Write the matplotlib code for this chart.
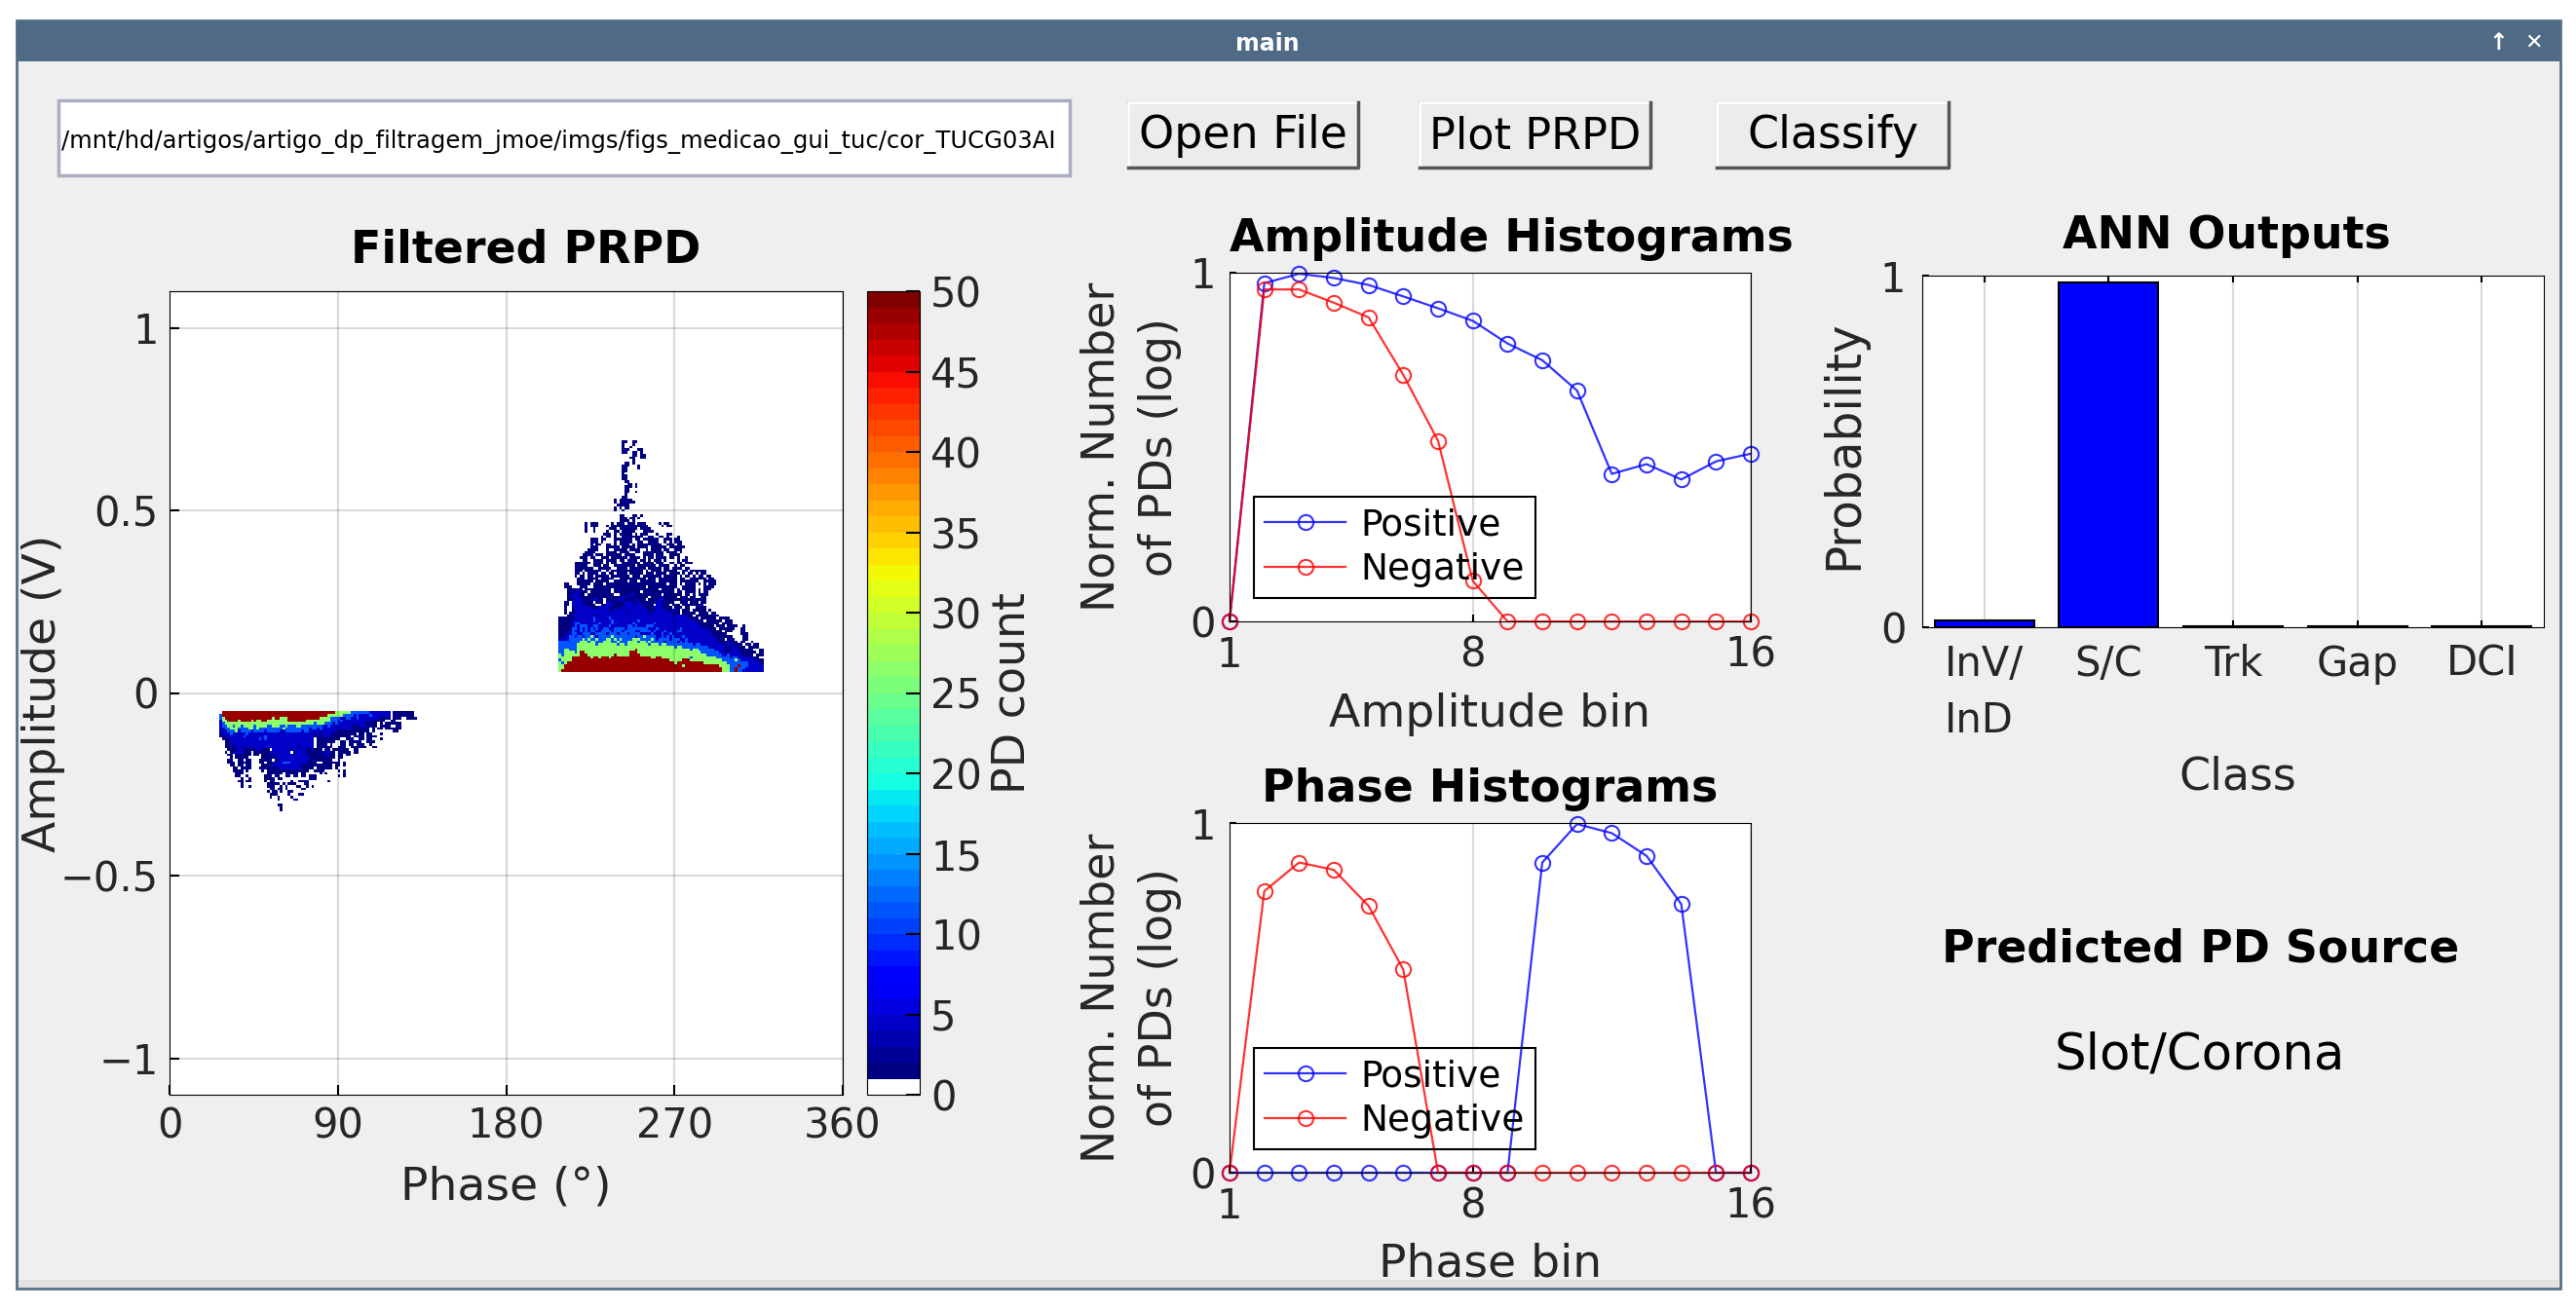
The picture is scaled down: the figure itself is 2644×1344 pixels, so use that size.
import numpy as np
import matplotlib
matplotlib.use("Agg")
import matplotlib.pyplot as plt
from matplotlib.colors import ListedColormap, Normalize
from matplotlib.patches import Rectangle

W, H = 2644, 1344

# --------------------------
# data
# --------------------------
bins = np.arange(1, 17)
amp_pos = [0, 0.97, 0.997, 0.985, 0.965, 0.932, 0.898, 0.862, 0.797, 0.749, 0.662, 0.423, 0.451, 0.407, 0.459, 0.481]
amp_neg = [0, 0.952, 0.952, 0.914, 0.872, 0.707, 0.518, 0.116, 0, 0, 0, 0, 0, 0, 0, 0]
pha_pos = [0, 0, 0, 0, 0, 0, 0, 0, 0, 0.887, 0.997, 0.971, 0.906, 0.768, 0, 0]
pha_neg = [0, 0.805, 0.887, 0.866, 0.763, 0.581, 0, 0, 0, 0, 0, 0, 0, 0, 0, 0]

classes = ["InV/\nInD", "S/C", "Trk", "Gap", "DCI"]
probs = [0.02, 0.98, 0.002, 0.002, 0.002]

# PRPD cells, one char per bin: d/b/c/g/r are the colours seen in the picture
levels = {".": 0, "d": 1, "b": 4, "c": 11, "g": 26, "r": 48}

# positive half cycle, top row first
pos_rows = [
    "........................dd..dd",
    "........................d...d",
    "........................d..d",
    "........................ddd...dd",
    "........................dd..dd.d",
    "............................dd.dd",
    "...........................dd..dd",
    "............................d",
    ".........................dd.d",
    "........................ddd...d",
    "........................dd....d",
    "........................dd",
    "........................d",
    "........................dd",
    "........................dd",
    ".........................dd",
    "..........................dd.d",
    ".........................ddd.d",
    ".........................dd",
    ".........................dd..d",
    ".........................d",
    "........................dd",
    ".....................d.ddddd",
    ".....................d.dddddd",
    "......................ddddd",
    ".....................d.d.dd",
    ".....................d..d",
    "",
    ".......................dd...dd.d",
    ".......................ddd.dd.d",
    ".......................dddd.d",
    "..........d.ddd.....d.ddd.ddd.ddd.....d.dd",
    "..........d.ddd...d.dddddddddddddd.....d.dd",
    "..........d..d.....ddd.ddddddd.dddd",
    "..........d..d....d..dd.ddddd...dddd",
    ".................ddd.d.ddddd.d.ddd...d...dd",
    "................d.dd.d..dddddddd..dd..dd.d...d",
    "............ddd.dd...ddddddd.dd.dddddd..ddd.dd",
    "............ddd.d....d.ddddd..dd..dddd..d.d.ddd",
    "............d.dd..dd.d.dddd.d.ddddddddd..ddd.dd",
    "............ddd...ddddd.ddddd.dddd.dddddd.dddddd",
    "...........dddd...d..ddddd.dddd..d.dddd.dd..ddd",
    "..........dddd....dddd.dddd..dd.dddddddd.dddd.d",
    ".........dddd.ddd.dddddd.dddd...dddd.ddd..dddd",
    "........ddd.dd..ddd.dddddd.dddd.d.dd.dddd.dd.d..d",
    ".........dd..dddd.dddd.dd.dddd.dd.d.ddd.d....d.dd",
    "......dddddd.dddd.d.dd..ddddddd.dddd.ddd..dd.dd.ddd",
    "......ddddd..ddd.dd..dddddddd.ddddddd.dddd..d.dd",
    "......ddddddd..ddddd..dddd.dddddd.ddddd.dd.dddd.dd",
    "......ddd.dddddd..d.dddddddddddd.d.dddd.ddddd..dd.dddddd",
    "......dd.d.dddd.dd.dd.dddd.ddddd.ddd.dddd.dddd.d.dd.d.dd",
    "......d.dd.dd.ddddd.ddddddd.ddd.ddddddd.ddddd.d.dd.d.dd.dd",
    ".......ddd.dddd.ddddd..dddddddddd.ddd.ddddddd.dd..dddddd.dd",
    ".......dddddd.ddddd..ddddd.ddd.dddddd.ddddddd.ddddddd..ddddd",
    "..dd...ddddd.dddd.dddddddddbddddddddddddd.ddd.d.dddd.d.d.ddd",
    "..ddd...ddd..dddddddddddddddddddd.ddddddddddd..ddddd...dddd",
    "...dddddd.dddddddddd.ddbdddddddddddddd.ddddd.d.ddddd.d.ddd",
    "...dddbbddd.dddddddd.dddddddddd.dddddddddddd.dd.dddd.d.dd",
    "...ddbbbdd.dddddddddd..ddddbbdddddddddd.ddddddd.dd.d.dddd",
    "...ddbbbddddddddddddddddbbbddddddd.ddddbddddd.ddd.dd..dd",
    "...dddbbbddddbbdd.ddddbbbddddbddd.ddddbbdddddddddddddddd",
    "..dd.bbbbdddd.ddd.bbdddddbbbddbddddddbbddddd..ddd.ddd.dd",
    "..dd.bbbbddddd..ddbbbddddbbbbbbbdddd.bbbdd.ddd.dddddddd",
    "..d..dbbbbbbdddbbbbbddddbbbbbbbbddddbbbdddd.ddd.dd..dddd",
    "..d..dbbbbbbbbbbbbbddbbbbbbbbbbbbbdddbbbbddbbd.ddd.ddddd.d",
    "..d.dddbbbbbbbbbbbbbbbbbbbdbbbbbbbdbbbbbbbbddd.ddddd.dddd.dd",
    "...ddbbbbbbbbbdbbbbbbbbbbbbbbbbbbbbbbbbbbbbbbbbbddd.ddddddddd",
    "ddddddbbbbbbbcbbbbbcbbbbbbbbbbbbbbbbbbbbbbbbbbbbbdddd.dddddd.dddd",
    "dddddbbbbbbbbcbbbbbbcbbbbbbbbbcbbbbbbbbbbbbbbbbbbbbbddd.dddddd.ddd",
    "dddddbccbbbbbbbcbbbbcbbbbbbbcbbbbbbbcbbbbbbbbbbbbbbbbdddddddd.dddd",
    "dddddbcbcccbbccbbbbcbbbbbbccbcbbbcccbbbbbbbbbbbbbbbbbbddddd.ddd.dddd..d",
    "dddddccbcbcbcbcbbccbbccccbccccccccbbbcbbbbbbbbcbbbbbbbbbdddd.dddddd..dd",
    "ddddbcbbcbcbccbbccccbcccbccccbbccccbcbbbcbbbbccbbbbbbbbbbbdddd.ddd...dd",
    "dddbbccbbcccbbccccbcccbcccbccccbbbbcbbbcbbcbbbbbbbbbbbbbbbdddddd.....ddd",
    "ddbbccbccbccgcbcccccgccccccccbccgccccbbcbcbcbbbcbbbbbbbbbbbddddddd....dd",
    "bbbbcccccgcgccgcccggcgcgccccgggccccgcbccccbcccbbcbbbbbbbbbbbddd.ddd...dd",
    "ccccccccgggcggcccgggccgcccggggcggcgcccccbccccbcbcbbbbbbbbbbbbdddbddd.dd..d",
    "cccccccgggggggcgggggggcggcggggggggcgggcggccccccccccbccbbbbbbbbddbbdddd.dd.dd",
    "cccccccgggggggggggggggggggggggggggggggggggggcggccccccccccbbbbbbbddbbddd.dddd",
    "ccggcccggggggggggggggggggggggrggggggggggggggggggggcggccccccbbbbddbbbdddddd..dd",
    "ccggggcgrrgggggggggggggggggrrrggggggggggggggggggggggggcccccccbbddbbbbdddddd.dd",
    "gcggggggrrrggggggggggrgggggrrrrgggggggggggggggggggggggggccccccbbcbbbbbdddd.ddd",
    "gggggrrrrrrrgrrgrrrgrrrrrrrrrrrrrrrggrrgggggggggggcgggggggggcccccbccbbbbbddd",
    "cggggrrrrrrrrrrrrrrrrrrrrrrrrrrrrrrrrrrrrrgggggrrrggggggggggggcccccgcbbbbbbddd",
    "gcgrrrrrrrrrrrrrrrrrrrrrrrrrrrrrrrrrrrrrrrrrgrrrrrrrrrrgggggggggccccccccbbbbdd",
    "ggrrrrrrrrrrrrrrrrrrrrrrrrrrrrrrrrrrrrrrrrrrrrrgrrrrrrrrrrrrrggggcccrcccbbbbbb",
    "ggrrrrrrrrrrrrrrrrrrrrrrrrrrrrrrrrrrrrrrrrrrrrrrrrrrrrrrrrrrrrgggccrcccbbbbbbb",
    "grrrrrrrrrrrrrrrrrrrrrrrrrrrrrrrrrrrrrrrrrrrrrrrrrrrrrrrrrrrrrgggccrccbbbbbbbb",
]

# negative half cycle, top row first
neg_rows = [
    ".rrrrrrrrrrrrrrrrrrrrrrrrrrrrrrrrrrrrrrrrrrrggggggcccccccbbbbbbbb.dddddddd",
    "crrrrrrrrrrrrrrrrrrrrrrrrrrrrrrrrrrrrrrrrggggggccccbcbbbbcbbbbbbb.dddddddd",
    "cgrrrrrrrrrrrrrrrrrrgrrgggrrrrrrrrrrrrggggccccbbccbbcbbbbbbbbdddd.ddd..dddd",
    "bggrrrrgrrrrgrggrrggggggggrrrrrrrgggggggggcccbcbbbbbbbbbbbddddd..dd",
    "bcggggggggggggggggggggggggggggggggggcgggcccbcbbbbbbbbbbddddd.d.dddddd",
    "bccggcggcggggcggggccgggccgcccggccccccccbbcbbbbbbbbdddbbbdddd.dddd..dd",
    "bbccgggccccggcgcccccccccgcccccccccbccbcbbbbbbbbbbbbdddddd.d.dd.dddddd",
    "bbbcccgbccccbccccbcccccbbccccccbccbbbbbbbbbbbdddddddddddd.d.......dd",
    "dbbbcbbbbbcbbbbbbbbbbbbbbbbbbbbbbbbbdbdbbbdddddddddd.dd.dd...d",
    "ddbbbbbbbcbbbbbbbcbbbbbbbbbbbbbbbbbbdddbbbdddddddd.dddd.dddd",
    ".dddbbbbbbbbbbbcbcbbbbbbbbbbbbbbbbbb.ddddddddd..ddd..dd.dd...d",
    "..ddbbbbbbbbbbbbbbbbbbbbbbbbbbbbbbbb.ddddddd..dd.ddddd..ddd",
    "..dddbbbbbbbbbbbbbbbbbbbbbbbbbbbbbbb.dddd.d...dd.dd.ddd..d",
    "..ddddbbdbbbbbbbbbbbbbbbbbbbbbdbbbbb.dddddd..ddd..dddddd..dd",
    "...ddddbbdddddbbddd.bbbbbbbdbbbbbddbddd.dd.dddddd..dd",
    "..d.ddbbbddd.ddddddbbbdbbbb.dbbbbdddddddbbdd.ddddd.dd",
    "...dd.dddddd.dd.dddddbbbbbbbbbbbbddddddbbddd.dd.dd",
    "....d.ddddd.....dddddbbbbbbbbbbbbbdddddddddd.dd",
    "...dd..dd.dd...ddddd.ddbbbbbbbbbbbddddddddd..d",
    "...ddd.ddddd...dd.dddbbbcccbbbbbbdddd..ddddddd.d",
    "....dd.dd.dd....ddddbbbbbbbbbbbdddddddddddd.dd.d",
    ".....dd.dddd...dddddddbbbbbbbbbddddd.dddddd.d",
    ".....dddd.d.....d.dddddddddddddddd..dddd.....d.d",
    "......ddd.........dddddd.ddddd.dd.....d.d......d",
    "......dd..d......ddd.dd..dd.dd.dd.ddd........d.d",
    "........d..d.....dddd.dd..........ddd",
    ".......dd.dd.....d.dd......d..dddd.......d",
    "........d.........ddddd.d.ddd...dd",
    "........d..d......ddd..d.d...dd..d.d",
    "...................dd.dd.d.....dd",
    "..................d.dd.d..dd",
    "...................ddd....d...dd",
    "...................d..d....d",
    "......................d.....dd",
    "",
    "......................dd",
    ".......................d",
    ".......................d",
]

# --------------------------
# put the cells on the phase / amplitude grid
# --------------------------
phase_edges = np.linspace(0, 360, 257)
amp_step = 0.0072
amp_edges = np.arange(-153, 154) * amp_step
counts = np.zeros((len(amp_edges) - 1, len(phase_edges) - 1))

pos_col0 = np.searchsorted(phase_edges, 207.0)
pos_base = np.searchsorted(amp_edges, 0.053)
for i, row in enumerate(pos_rows[::-1]):
    for j, ch in enumerate(row):
        counts[pos_base + i, pos_col0 + j] = levels[ch]

neg_col0 = np.searchsorted(phase_edges, 26.6)
neg_top = np.searchsorted(amp_edges, -0.054) - 1
for i, row in enumerate(neg_rows):
    for j, ch in enumerate(row):
        counts[neg_top - i, neg_col0 + j] = levels[ch]

plt.rcParams["font.family"] = "DejaVu Sans"
fig = plt.figure(figsize=(W / 100, H / 100), dpi=100, facecolor="white")


def px_axes(l, t, r, b):
    return fig.add_axes([l / W, 1 - b / H, (r - l) / W, (b - t) / H])


def px_text(x, y, s, **kw):
    kw.setdefault("ha", "center")
    kw.setdefault("va", "center")
    return fig.text(x / W, 1 - y / H, s, **kw)


# --------------------------
# window chrome
# --------------------------
win = fig.add_axes([0, 0, 1, 1], zorder=-5)
win.set_xlim(0, W)
win.set_ylim(H, 0)
win.axis("off")
win.add_patch(Rectangle((17, 21), 2611, 1302, fc="#efefef", ec="#55708c", lw=2))
win.add_patch(Rectangle((17, 21), 2611, 42, fc="#4e6a85", ec="none"))
win.add_patch(Rectangle((19, 1314), 2607, 8, fc="#e2e2e0", ec="none"))
win.add_patch(Rectangle((60, 103), 1038, 77, fc="white", ec="#a9afc0", lw=2.5))
for left, right in [(1158, 1394), (1457, 1694), (1762, 2000)]:
    win.add_patch(Rectangle((left, 105), right - left, 67, fc="#ececec", ec="#9a9a9a", lw=1.5))
    win.plot([left, left, right], [172, 105, 105], color="white", lw=2)
    win.plot([left, right, right], [172, 172, 105], color="#555555", lw=2.5)

px_text(1301, 45, "main", color="white", fontsize=17, fontweight="bold")
px_text(2564, 44, "\u2191", color="white", fontsize=17, fontweight="bold")
px_text(2600, 44, "\u2715", color="white", fontsize=16, fontweight="bold")
px_text(63, 145, "/mnt/hd/artigos/artigo_dp_filtragem_jmoe/imgs/figs_medicao_gui_tuc/cor_TUCG03AI",
        ha="left", fontsize=17.5, color="black", clip_on=True,
        clip_box=matplotlib.transforms.Bbox([[60, H - 180], [1097, H - 103]]))
px_text(1276, 140, "Open File", fontsize=33, color="black")
px_text(1576, 140, "Plot PRPD", fontsize=32, color="black")
px_text(1881, 140, "Classify", fontsize=33, color="black")

# --------------------------
# filtered PRPD
# --------------------------
tick_grey = "#262626"
grid_kw = dict(color="black", alpha=0.15, lw=1.5)

jet = plt.get_cmap("jet", 49)(np.arange(49))
prpd_cmap = ListedColormap(np.vstack([[1, 1, 1, 1], jet]))

ax = px_axes(174, 299, 865, 1124)
ax.set_facecolor("white")
mesh = ax.pcolormesh(phase_edges, amp_edges, np.ma.masked_equal(counts, 0),
                     cmap=prpd_cmap, norm=Normalize(0, 50))
ax.set_xlim(0, 360)
ax.set_ylim(-1.1, 1.1)
ax.set_xticks([0, 90, 180, 270, 360])
ax.set_yticks([-1, -0.5, 0, 0.5, 1])
ax.set_yticklabels(["\u22121", "\u22120.5", "0", "0.5", "1"])
ax.grid(True, **grid_kw)
ax.set_axisbelow(False)
ax.tick_params(direction="in", length=7, width=1.5, labelsize=30, labelcolor=tick_grey, pad=8)
ax.set_xlabel("Phase (\u00b0)", fontsize=34, color=tick_grey, labelpad=14)
ax.set_ylabel("Amplitude (V)", fontsize=34, color=tick_grey, labelpad=-4)
ax.set_title("Filtered PRPD", fontsize=33, fontweight="bold", pad=21, x=0.529)

cax = px_axes(890, 299, 944, 1124)
cbar = fig.colorbar(mesh, cax=cax)
cbar.set_ticks(np.arange(0, 51, 5))
cbar.ax.tick_params(direction="in", length=10, width=1.5, labelsize=30, labelcolor=tick_grey, pad=8)
cbar.set_label("PD count", fontsize=33, color=tick_grey, labelpad=6)


# --------------------------
# histograms
# --------------------------
def hist_panel(box, pos, neg, title, xlabel, title_x, xlabel_pad):
    a = px_axes(*box)
    a.set_facecolor("white")
    a.plot(bins, pos, "-o", color="blue", lw=1.6, ms=11, mfc="none", mew=1.5, alpha=0.8,
           clip_on=False, label="Positive")
    a.plot(bins, neg, "-o", color="red", lw=1.6, ms=11, mfc="none", mew=1.5, alpha=0.8,
           clip_on=False, label="Negative")
    a.set_xlim(1, 16)
    a.set_ylim(0, 1)
    a.set_xticks([1, 8, 16])
    a.set_yticks([0, 1])
    a.grid(True, axis="x", **grid_kw)
    a.tick_params(direction="in", length=5, width=1.5, labelsize=30, labelcolor=tick_grey, pad=10)
    a.set_xlabel(xlabel, fontsize=34, color=tick_grey, labelpad=xlabel_pad)
    a.set_ylabel("Norm. Number\nof PDs (log)", fontsize=33, color=tick_grey, labelpad=6, linespacing=1.42)
    a.set_title(title, fontsize=33, fontweight="bold", pad=16, x=title_x)
    leg = a.legend(loc="lower left", bbox_to_anchor=(0.047, 0.067), borderaxespad=0, fontsize=27,
                   fancybox=False, framealpha=1, edgecolor="black", labelspacing=0.25,
                   handlelength=2.2, handletextpad=0.4, borderpad=0.3)
    leg.get_frame().set_facecolor("none")
    leg.get_frame().set_linewidth(1.5)
    for t in leg.get_texts():
        t.set_color("black")
    return a


hist_panel((1262, 280, 1797, 638), amp_pos, amp_neg, "Amplitude Histograms", "Amplitude bin", 0.541, 12)
hist_panel((1262, 845, 1797, 1204), pha_pos, pha_neg, "Phase Histograms", "Phase bin", 0.5, 11)

# --------------------------
# ANN outputs
# --------------------------
bx = px_axes(1973, 283, 2611, 644)
bx.set_facecolor("white")
bx.bar(np.arange(1, 6), probs, width=0.8, color="blue", edgecolor="black", lw=1.5, zorder=3)
bx.set_xlim(0.5, 5.5)
bx.set_ylim(0, 1)
bx.set_xticks(np.arange(1, 6))
bx.set_xticklabels(classes, multialignment="left", linespacing=1.5)
bx.set_yticks([0, 1])
bx.grid(True, axis="x", **grid_kw)
bx.tick_params(direction="in", length=5, width=1.5, labelsize=30, labelcolor=tick_grey, pad=12)
bx.tick_params(axis="x", top=True)
bx.set_xlabel("Class", fontsize=33, color=tick_grey, labelpad=10, x=0.508)
bx.set_ylabel("Probability", fontsize=35, color=tick_grey, labelpad=10, y=0.519)
bx.set_title("ANN Outputs", fontsize=33, fontweight="bold", pad=20, x=0.489)

px_text(2259, 975, "Predicted PD Source", fontsize=33, fontweight="bold", color="black")
px_text(2258, 1083, "Slot/Corona", fontsize=37, color="black")

fig.savefig("out.png", dpi=100)
